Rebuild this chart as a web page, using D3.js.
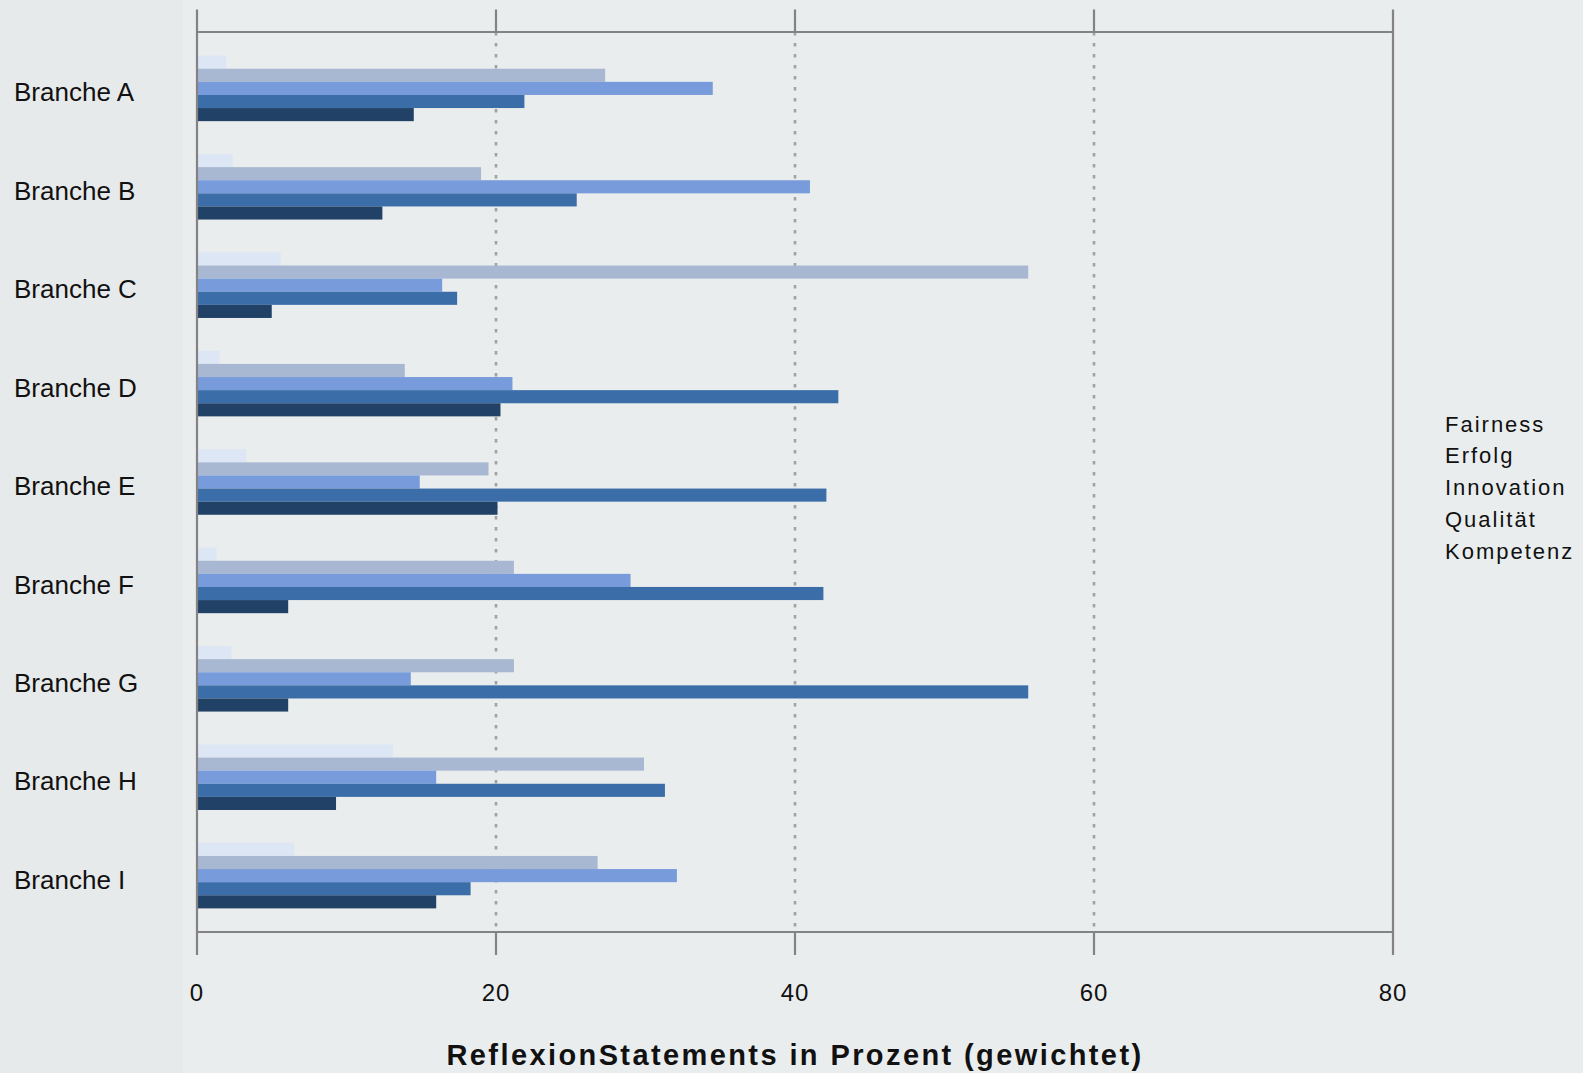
<!DOCTYPE html>
<html>
<head>
<meta charset="utf-8">
<script src="https://cdn.jsdelivr.net/npm/d3@7"></script>
<style>
  html, body { margin: 0; padding: 0; background: #eaeded; }
  svg { display: block; }
  text { font-family: "Liberation Sans", Arial, sans-serif; fill: #111; }
</style>
</head>
<body>
<svg id="chart" width="1583" height="1073"></svg>
<script>
// Branchen (top to bottom) and the five statement types
const categories = ["Branche A", "Branche B", "Branche C", "Branche D", "Branche E",
                    "Branche F", "Branche G", "Branche H", "Branche I"];
const seriesNames = ["Fairness", "Erfolg", "Innovation", "Qualität", "Kompetenz"];

// Share of reflexion statements per Branche, in percent (weighted)
const fairness   = [1.95, 2.4, 5.6, 1.5, 3.3, 1.3, 2.3, 13.1, 6.5];
const erfolg     = [27.3, 19.0, 55.6, 13.9, 19.5, 21.2, 21.2, 29.9, 26.8];
const innovation = [34.5, 41.0, 16.4, 21.1, 14.9, 29.0, 14.3, 16.0, 32.1];
const qualitaet  = [21.9, 25.4, 17.4, 42.9, 42.1, 41.9, 55.6, 31.3, 18.3];
const kompetenz  = [14.5, 12.4, 5.0, 20.3, 20.1, 6.1, 6.1, 9.3, 16.0];

const xTicks = [0, 20, 40, 60, 80];
const xTitle = "ReflexionStatements in Prozent (gewichtet)";

const seriesValues = [fairness, erfolg, innovation, qualitaet, kompetenz];
const colors = ["#dde6f4", "#a9b8d2", "#789bdb", "#3b6ea9", "#224166"];

const svg = d3.select("#chart");
const W = 1583, H = 1073;
const plot = { left: 197, right: 1393, top: 32, bottom: 932 };

// backgrounds: slightly lighter strip behind the category labels
svg.append("rect").attr("x", 0).attr("y", 0).attr("width", W).attr("height", H).attr("fill", "#eaeded");
svg.append("rect").attr("x", 0).attr("y", 0).attr("width", 183).attr("height", H).attr("fill", "#e7eaea");

const x = d3.scaleLinear().domain([0, 80]).range([plot.left, plot.right]);
const y = d3.scaleBand().domain(categories).range([plot.top, plot.bottom])
  .paddingInner(0.334).paddingOuter(0.24);
const ySub = d3.scaleBand().domain(seriesNames).range([0, y.bandwidth()]);

// dotted gridlines inside the frame
svg.append("g").selectAll("line")
  .data(xTicks.filter(t => t > 0 && t < 80))
  .join("line")
  .attr("x1", d => x(d)).attr("x2", d => x(d))
  .attr("y1", plot.top).attr("y2", plot.bottom)
  .attr("stroke", "#a2a2a2").attr("stroke-width", 2.6)
  .attr("stroke-dasharray", "3.5,7.5");

// bars
const rows = categories.map((c, i) => ({
  cat: c,
  vals: seriesNames.map((s, j) => ({ series: s, idx: j, value: seriesValues[j][i] }))
}));

svg.append("g").selectAll("g")
  .data(rows)
  .join("g")
  .attr("transform", d => `translate(0,${y(d.cat)})`)
  .selectAll("rect")
  .data(d => d.vals)
  .join("rect")
  .attr("x", x(0))
  .attr("y", d => ySub(d.series))
  .attr("width", d => x(d.value) - x(0))
  .attr("height", ySub.bandwidth())
  .attr("fill", d => colors[d.idx]);

// frame: top and bottom lines, plus full-height lines at 0 and 80, ticks above and below
const axisColor = "#838383";
svg.append("line").attr("x1", plot.left).attr("x2", plot.right)
  .attr("y1", plot.top).attr("y2", plot.top)
  .attr("stroke", axisColor).attr("stroke-width", 2.2);
svg.append("line").attr("x1", plot.left).attr("x2", plot.right)
  .attr("y1", plot.bottom).attr("y2", plot.bottom)
  .attr("stroke", axisColor).attr("stroke-width", 2.2);

svg.append("g").selectAll("line.full")
  .data([0, 80]).join("line")
  .attr("x1", d => x(d)).attr("x2", d => x(d))
  .attr("y1", 9.5).attr("y2", 955)
  .attr("stroke", axisColor).attr("stroke-width", 2.2);

svg.append("g").selectAll("line.tickTop")
  .data(xTicks.filter(t => t > 0 && t < 80)).join("line")
  .attr("x1", d => x(d)).attr("x2", d => x(d))
  .attr("y1", 9.5).attr("y2", plot.top)
  .attr("stroke", axisColor).attr("stroke-width", 2.2);

svg.append("g").selectAll("line.tickBottom")
  .data(xTicks.filter(t => t > 0 && t < 80)).join("line")
  .attr("x1", d => x(d)).attr("x2", d => x(d))
  .attr("y1", plot.bottom).attr("y2", 955)
  .attr("stroke", axisColor).attr("stroke-width", 2.2);

// tick labels
svg.append("g").selectAll("text")
  .data(xTicks).join("text")
  .attr("x", d => x(d)).attr("y", 1001)
  .attr("text-anchor", "middle")
  .style("font-size", "24px")
  .style("letter-spacing", "1px")
  .text(d => d);

// category labels
svg.append("g").selectAll("text")
  .data(categories).join("text")
  .attr("x", 14)
  .attr("y", d => y(d) + y.bandwidth() / 2 + 4)
  .attr("dy", "0.35em")
  .style("font-size", "26px")
  .text(d => d);

// legend (text only)
svg.append("g").selectAll("text")
  .data(seriesNames).join("text")
  .attr("x", 1445)
  .attr("y", (d, i) => 424 + i * 31.7)
  .attr("dy", "0.35em")
  .style("font-size", "22px")
  .style("letter-spacing", "2px")
  .text(d => d);

// axis title
svg.append("text")
  .attr("x", (plot.left + plot.right) / 2)
  .attr("y", 1065)
  .attr("text-anchor", "middle")
  .style("font-size", "29px")
  .style("font-weight", "bold")
  .style("letter-spacing", "2.4px")
  .text(xTitle);
</script>
</body>
</html>
